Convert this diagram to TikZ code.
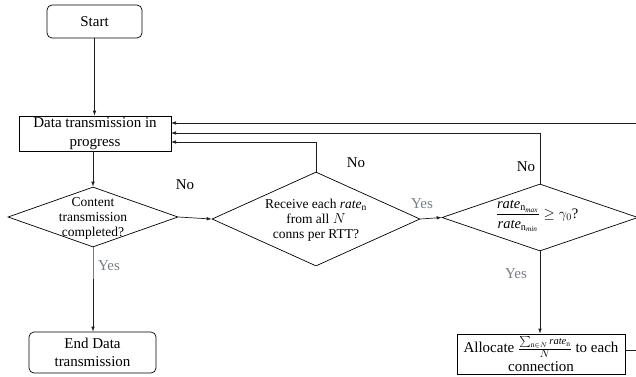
\documentclass[tikz,border=0pt]{standalone}
\usepackage{amsmath}
\usepackage{fontspec}
\setmainfont{Liberation Serif}
\usetikzlibrary{shapes.geometric,arrows.meta}
\definecolor{yescol}{RGB}{118,126,138}
\definecolor{linecol}{RGB}{30,30,30}
\tikzset{
  conn/.style={draw=linecol, line width=0.7pt, -{Latex[length=5pt,width=3.6pt]}},
  plain/.style={draw=linecol, line width=0.7pt},
  boxnode/.style={draw, line width=0.7pt, inner sep=0pt, align=center, font=\fontsize{15}{18.5}\selectfont},
  roundbox/.style={boxnode, rounded corners=5pt},
  dianode/.style={draw, diamond, line width=0.7pt, inner sep=0pt},
  diatext/.style={align=center, inner sep=0pt, font=\fontsize{13.5}{15}\selectfont},
  nolabel/.style={inner sep=0pt, font=\fontsize{15}{18}\selectfont},
  yeslabel/.style={inner sep=0pt, text=yescol, font=\fontsize{15}{18}\selectfont},
}
\begin{document}
\begin{tikzpicture}[x=1pt,y=-1pt]
\useasboundingbox (0,0) rectangle (636,376);
\clip (0,0) rectangle (636,376);
% nodes
\node[roundbox, minimum width=95pt, minimum height=33pt] (start) at (94.5,21.5) {Start};
\node[boxnode, minimum width=152pt, minimum height=35pt] (data) at (95,133.5) {Data transmission in\\progress};
\node[dianode, minimum width=170pt, minimum height=60pt] (d1) at (93,217) {};
\node[diatext] (d1t) at (93,218) {Content\\transmission\\completed?};
\node[dianode, minimum width=208pt, minimum height=94pt] (d2) at (316,219) {};
\node[diatext] (d2t) at (316,220) {Receive each $\mathit{rate}_{\mathrm{n}}$\\from all $N$\\conns per RTT?};
\node[dianode, minimum width=196pt, minimum height=67pt] (d3) at (540,217.5) {};
\node[diatext, font=\fontsize{14.5}{16}\selectfont] (d3t) at (537,216) {$\dfrac{\mathit{rate}_{\mathrm{n}_{\mathit{max}}}}{\mathit{rate}_{\mathrm{n}_{\mathit{min}}}}\geq\gamma_0$?};
\node[roundbox, minimum width=127pt, minimum height=41pt] (end) at (92.5,352.5) {End Data\\transmission};
\node[boxnode, minimum width=168pt, minimum height=40pt] (alloc) at (541,354) {Allocate $\frac{\sum_{\mathrm{n}\in N}\mathit{rate}_{\mathrm{n}}}{N}$ to each\\connection};
% labels
\node[nolabel] (no1) at (185,185) {No};
\node[nolabel] (no2) at (356,163) {No};
\node[nolabel] (no3) at (526,167) {No};
\node[yeslabel] (yes1) at (109,266) {Yes};
\node[yeslabel] (yes2) at (422,204) {Yes};
\node[yeslabel] (yes3) at (516,274) {Yes};
% coordinates
\coordinate (inA) at (171,123);
\coordinate (inB) at (171,133);
\coordinate (inC) at (171,142);
\coordinate (farR) at (650,350);
\coordinate (graystop) at (93,279);
% connectors
\draw[conn] (start.south) -- (data.north -| start.south);
\draw[conn] (data.south -| d1.north) -- (d1.north);
\draw[conn] (d1.east) -- (d2.west);
\draw[conn] (d1.south) -- (end.north -| d1.south);
\draw[draw=yescol, line width=0.7pt] (d1.south) -- (graystop);
\draw[conn] (d2.east) -- (d3.west);
\draw[conn] (d3.south) -- (alloc.north -| d3.south);
\draw[conn] (d2.north) |- (inC);
\draw[conn] (d3.north) |- (inB);
\draw[conn] (alloc.east |- farR) -- (farR) |- (inA);
\end{tikzpicture}
\end{document}
